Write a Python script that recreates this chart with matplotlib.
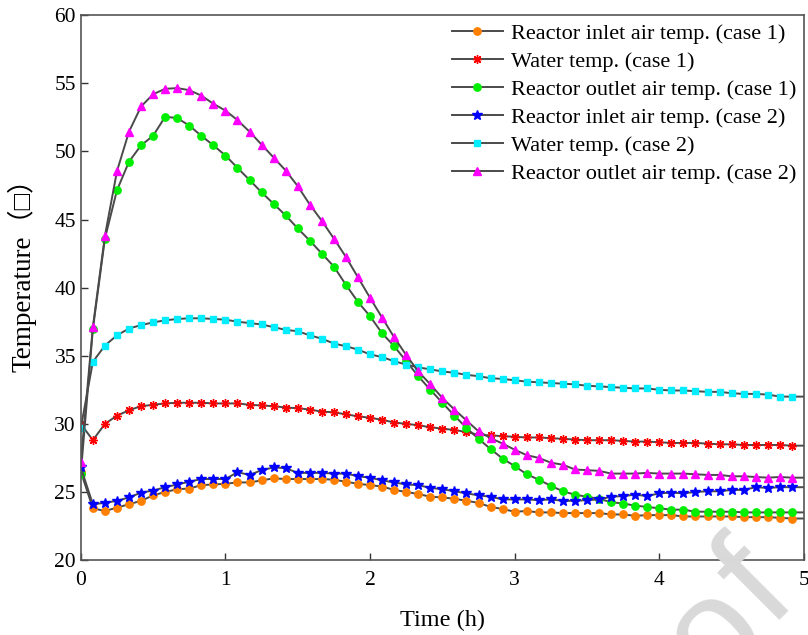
import numpy as np
import matplotlib
matplotlib.use("Agg")
import matplotlib.pyplot as plt

# ---------------------------------------------------------------------------
# Data: temperatures sampled every 5 min (1/12 h) from 0 to 5 h
# ---------------------------------------------------------------------------
time_h = np.arange(61) / 12.0

inlet_case1 = [
    26.5, 23.8, 23.6, 23.85, 24.1, 24.35, 24.75, 25.0, 25.2, 25.25,
    25.5, 25.55, 25.6, 25.7, 25.7, 25.85, 26.0, 25.95, 25.95, 25.95,
    25.95, 25.9, 25.75, 25.6, 25.5, 25.4, 25.15, 25.0, 24.85, 24.65,
    24.6, 24.5, 24.35, 24.2, 23.9, 23.75, 23.55, 23.6, 23.5, 23.5,
    23.45, 23.45, 23.45, 23.45, 23.35, 23.35, 23.25, 23.3, 23.3, 23.3,
    23.2, 23.2, 23.2, 23.2, 23.2, 23.15, 23.15, 23.15, 23.1, 23.05, 23.05,
]
water_case1 = [
    30.0, 28.8, 30.0, 30.6, 31.0, 31.3, 31.4, 31.5, 31.55, 31.55,
    31.55, 31.5, 31.5, 31.5, 31.4, 31.35, 31.3, 31.2, 31.15, 31.05,
    30.9, 30.85, 30.7, 30.55, 30.45, 30.3, 30.1, 30.0, 29.9, 29.75,
    29.65, 29.55, 29.4, 29.2, 29.15, 29.1, 29.05, 29.0, 29.0, 28.95,
    28.9, 28.85, 28.8, 28.8, 28.8, 28.75, 28.7, 28.7, 28.65, 28.6,
    28.6, 28.6, 28.55, 28.5, 28.5, 28.45, 28.45, 28.45, 28.45, 28.4, 28.4,
]
outlet_case1 = [
    26.35, 36.95, 43.6, 47.15, 49.25, 50.45, 51.15, 52.55, 52.45, 51.9,
    51.15, 50.45, 49.7, 48.8, 47.9, 47.0, 46.15, 45.3, 44.35, 43.45,
    42.5, 41.55, 40.2, 38.95, 37.9, 36.65, 35.7, 34.6, 33.5, 32.5,
    31.55, 30.6, 29.7, 28.9, 28.15, 27.45, 26.9, 26.3, 25.9, 25.45,
    25.05, 24.8, 24.65, 24.5, 24.25, 24.15, 24.0, 23.9, 23.8, 23.7,
    23.7, 23.55, 23.55, 23.55, 23.55, 23.5, 23.5, 23.5, 23.5, 23.5, 23.5,
]
inlet_case2 = [
    26.8, 24.1, 24.2, 24.35, 24.6, 24.95, 25.1, 25.35, 25.55, 25.75,
    25.95, 25.95, 25.95, 26.45, 26.25, 26.6, 26.8, 26.75, 26.4, 26.4,
    26.4, 26.35, 26.35, 26.15, 26.05, 25.85, 25.7, 25.55, 25.5, 25.3,
    25.2, 25.05, 24.9, 24.75, 24.65, 24.45, 24.45, 24.45, 24.4, 24.45,
    24.35, 24.35, 24.4, 24.45, 24.65, 24.7, 24.8, 24.7, 24.9, 24.95,
    24.9, 25.0, 25.05, 25.05, 25.15, 25.15, 25.35, 25.3, 25.35, 25.35, 25.35,
]
water_case2 = [
    29.7, 34.55, 35.75, 36.5, 37.0, 37.25, 37.45, 37.6, 37.7, 37.75,
    37.75, 37.7, 37.65, 37.5, 37.4, 37.3, 37.1, 36.9, 36.8, 36.5,
    36.25, 35.9, 35.7, 35.45, 35.1, 34.9, 34.6, 34.35, 34.15, 34.0,
    33.85, 33.75, 33.6, 33.5, 33.35, 33.3, 33.2, 33.1, 33.05, 33.0,
    32.95, 32.9, 32.8, 32.75, 32.7, 32.65, 32.6, 32.6, 32.5, 32.45,
    32.45, 32.4, 32.35, 32.35, 32.25, 32.2, 32.2, 32.15, 32.0, 32.0, 32.0,
]
outlet_case2 = [
    27.2, 37.1, 43.8, 48.55, 51.45, 53.3, 54.2, 54.6, 54.65, 54.5,
    54.1, 53.5, 53.0, 52.3, 51.45, 50.5, 49.55, 48.6, 47.45, 46.1,
    44.9, 43.6, 42.25, 40.75, 39.25, 37.8, 36.35, 35.05, 33.85, 32.9,
    31.9, 31.05, 30.25, 29.45, 28.95, 28.55, 28.1, 27.7, 27.5, 27.15,
    27.0, 26.65, 26.6, 26.55, 26.35, 26.35, 26.35, 26.4, 26.35, 26.35,
    26.35, 26.3, 26.25, 26.25, 26.15, 26.15, 26.1, 26.05, 26.1, 26.05, 26.05,
]

labels = [
    "Reactor inlet air temp. (case 1)",
    "Water temp. (case 1)",
    "Reactor outlet air temp. (case 1)",
    "Reactor inlet air temp. (case 2)",
    "Water temp. (case 2)",
    "Reactor outlet air temp. (case 2)",
]

# ---------------------------------------------------------------------------
# Styles
# ---------------------------------------------------------------------------
plt.rcParams["font.family"] = ["Liberation Serif", "Noto Sans CJK SC", "DejaVu Sans"]

series = [inlet_case1, water_case1, outlet_case1, inlet_case2, water_case2, outlet_case2]
markers = ["o", (8, 2, 0), "o", "*", "s", "^"]
colors = ["#ff8000", "#ff0000", "#00ee00", "#0000ff", "#00eeff", "#ff00ff"]
sizes = [5.3, 6.2, 5.3, 7.2, 4.8, 6.0]

fig = plt.figure(figsize=(8.08, 6.35), dpi=100)
ax = fig.add_axes([0.1, 0.118, 0.895, 0.858])

for y, m, c, s, lab in zip(series, markers, colors, sizes, labels):
    ax.plot(time_h, y, color="#4a4a4a", lw=1.4, marker=m, ms=s, mew=1.0,
            mfc=c, mec=c, markevery=list(range(60)), label=lab)

ax.set_xlim(0, 5)
ax.set_ylim(20, 60)
ax.set_xticks(range(0, 6))
ax.set_yticks(range(20, 61, 5))
ax.tick_params(direction="in", labelsize=15.5, length=5, width=1.0,
               colors="#333333", labelcolor="black")
ax.tick_params(axis="x", pad=8)
for sp in ax.spines.values():
    sp.set_color("#555555")
    sp.set_linewidth(1.2)

ax.set_xlabel("Time (h)", fontsize=17.5, labelpad=14)
ax.set_ylabel("Temperature（□）", fontsize=19.5)
ax.yaxis.set_label_coords(-0.061, 0.535)

ax.legend(loc="upper right", frameon=False, fontsize=16,
          handlelength=2.3, handletextpad=0.35, labelspacing=0.34,
          borderaxespad=0.1, borderpad=0.25, bbox_to_anchor=(1.0, 1.0))

# faint "Pre-proof" watermark letters in the lower right corner
fig.text(716 / 808, 1 - 636 / 635, "o", fontsize=105, color="#d9d9d9",
         rotation=45, rotation_mode="anchor", ha="center", va="center",
         family="Liberation Sans", zorder=0.5)
fig.text(785 / 808, 1 - 613 / 635, "f", fontsize=105, color="#d9d9d9",
         rotation=45, rotation_mode="anchor", ha="center", va="baseline",
         family="Liberation Sans", zorder=0.5)

fig.savefig("out.png", dpi=100)
